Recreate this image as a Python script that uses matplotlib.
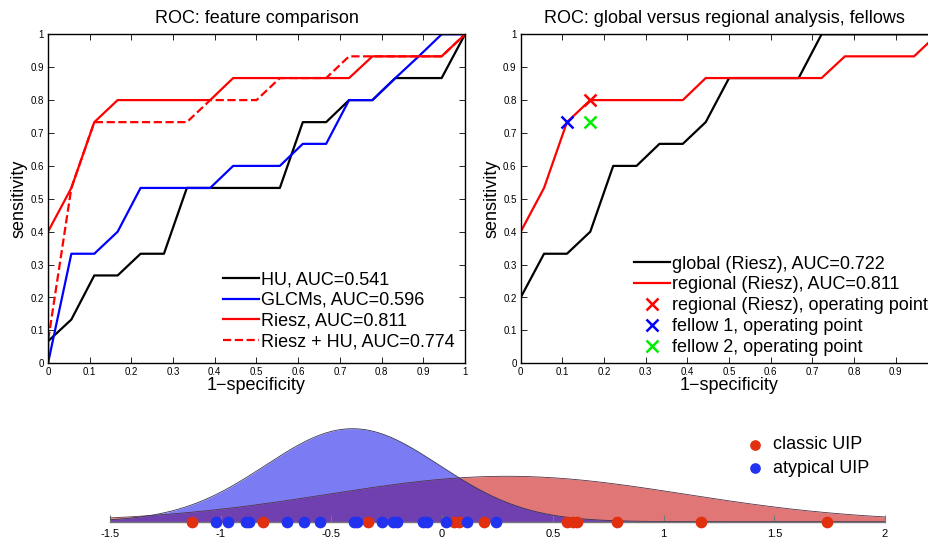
import numpy as np
import matplotlib
matplotlib.use('Agg')
import matplotlib.pyplot as plt

plt.rcParams['font.family'] = ['Liberation Sans', 'DejaVu Sans']

# ROC: feature comparison (x = 1-specificity, y = sensitivity)
hu_x = [0, 0, 0.056, 0.111, 0.167, 0.222, 0.278, 0.333, 0.556, 0.611, 0.667, 0.722, 0.778, 0.833, 0.944, 1]
hu_y = [0, 0.067, 0.133, 0.267, 0.267, 0.333, 0.333, 0.533, 0.533, 0.733, 0.733, 0.8, 0.8, 0.867, 0.867, 1]
glcm_x = [0, 0.056, 0.111, 0.167, 0.222, 0.389, 0.444, 0.556, 0.611, 0.667, 0.722, 0.778, 0.833, 0.889, 0.944, 1]
glcm_y = [0, 0.333, 0.333, 0.4, 0.533, 0.533, 0.6, 0.6, 0.667, 0.667, 0.8, 0.8, 0.867, 0.933, 1, 1]
riesz_x = [0, 0, 0.056, 0.111, 0.167, 0.389, 0.444, 0.722, 0.778, 0.944, 1]
riesz_y = [0, 0.4, 0.533, 0.733, 0.8, 0.8, 0.867, 0.867, 0.933, 0.933, 1]
rhu_x = [0, 0, 0.056, 0.111, 0.333, 0.389, 0.5, 0.556, 0.667, 0.722, 0.944, 1]
rhu_y = [0, 0.067, 0.533, 0.733, 0.733, 0.8, 0.8, 0.867, 0.867, 0.933, 0.933, 1]
labels_left = ['HU, AUC=0.541', 'GLCMs, AUC=0.596', 'Riesz, AUC=0.811', 'Riesz + HU, AUC=0.774']

# ROC: global versus regional
glob_x = [0, 0, 0.056, 0.111, 0.167, 0.222, 0.278, 0.333, 0.389, 0.444, 0.5, 0.667, 0.722, 1]
glob_y = [0, 0.2, 0.333, 0.333, 0.4, 0.6, 0.6, 0.667, 0.667, 0.733, 0.867, 0.867, 1, 1]
reg_x = [0, 0, 0.056, 0.111, 0.167, 0.389, 0.444, 0.722, 0.778, 0.944, 1]
reg_y = [0, 0.4, 0.533, 0.733, 0.8, 0.8, 0.867, 0.867, 0.933, 0.933, 1]
op_reg = (0.167, 0.8)
op_f1 = (0.111, 0.733)
op_f2 = (0.167, 0.733)
labels_right = ['global (Riesz), AUC=0.722', 'regional (Riesz), AUC=0.811',
                'regional (Riesz), operating point', 'fellow 1, operating point',
                'fellow 2, operating point']

# bottom: sample positions of the two groups
classic = [-1.13, -0.81, -0.333, 0.054, 0.074, 0.191, 0.566, 0.59, 0.608, 0.789, 1.168, 1.737]
atypical = [-1.02, -0.965, -0.885, -0.87, -0.70, -0.626, -0.55, -0.40, -0.385, -0.272,
            -0.223, -0.205, -0.087, -0.069, 0.018, 0.111, 0.244]
xticks_bot = [-1.5, -1, -0.5, 0, 0.5, 1, 1.5, 2]

W, H = 929, 538
fig = plt.figure(figsize=(W / 100, H / 100), dpi=100)


def px_axes(x0, y0, x1, y1):
    # axes from pixel box (top-left origin)
    return fig.add_axes([x0 / W, 1 - y1 / H, (x1 - x0) / W, (y1 - y0) / H])


def roc_style(ax):
    ax.set_xlim(0, 1)
    ax.set_ylim(0, 1)
    ax.set_xticks(np.arange(0, 1.01, 0.1))
    ax.set_yticks(np.arange(0, 1.01, 0.1))
    ax.set_xticklabels(['0'] + ['%.1f' % v for v in np.arange(0.1, 0.95, 0.1)] + ['1'])
    ax.set_yticklabels(['0'] + ['%.1f' % v for v in np.arange(0.1, 0.95, 0.1)] + ['1'])
    ax.tick_params(direction='in', top=True, right=True, labelsize=7, length=4, width=0.6, pad=3)
    for s in ax.spines.values():
        s.set_linewidth(1.0)
    ax.set_xlabel('1\u2212specificity', fontsize=13, labelpad=0)
    ax.set_ylabel('sensitivity', fontsize=13, labelpad=2)


ax1 = px_axes(48, 34.3, 465, 363.3)
ax1.plot(hu_x, hu_y, '-', color='black', lw=1.6)
ax1.plot(glcm_x, glcm_y, '-', color='blue', lw=1.6)
ax1.plot(riesz_x, riesz_y, '-', color='red', lw=1.6)
ax1.plot(rhu_x, rhu_y, '--', color='red', lw=1.6)
roc_style(ax1)
ax1.set_title('ROC: feature comparison', fontsize=13, pad=8)
ax1.legend(labels_left, loc='lower right', bbox_to_anchor=(1.0, 0.007), frameon=False, fontsize=13,
           handlelength=2.0, handletextpad=0.1, labelspacing=0.2, borderaxespad=0.2)

ax2 = px_axes(520.7, 34.3, 937.4, 363.3)
ax2.plot(glob_x, glob_y, '-', color='black', lw=1.6, label=labels_right[0])
ax2.plot(reg_x, reg_y, '-', color='red', lw=1.6, label=labels_right[1])
ax2.plot(*op_reg, 'x', color='red', ms=9, mew=1.8, label=labels_right[2])
ax2.plot(*op_f1, 'x', color='blue', ms=9, mew=1.8, label=labels_right[3])
ax2.plot(*op_f2, 'x', color='#00ee00', ms=9, mew=1.8, label=labels_right[4])
roc_style(ax2)
ax2.set_xticklabels(['0'] + ['%.1f' % v for v in np.arange(0.1, 0.95, 0.1)] + [''])
ax2.set_title('ROC: global versus regional analysis, fellows', fontsize=13, pad=8, x=0.49)
ax2.legend(loc='lower left', bbox_to_anchor=(0.245, -0.012), frameon=False, fontsize=13,
           handlelength=2.0, handletextpad=0.1, labelspacing=0.22, borderaxespad=0.2)

# bottom panel: gaussian fits of the two groups
ax3 = px_axes(110, 421, 885, 521.7)
xs = np.linspace(-1.5, 2, 600)


def gauss(v):
    m, s = np.mean(v), np.std(v, ddof=1)
    return np.exp(-(xs - m) ** 2 / (2 * s ** 2)) / (s * np.sqrt(2 * np.pi))


red_d = gauss(classic)
blue_d = gauss(atypical)
ax3.fill_between(xs, 0, red_d, color='#e07676', lw=0)
ax3.fill_between(xs, 0, blue_d, color='#7b7bf4', lw=0)
ax3.fill_between(xs, 0, np.minimum(red_d, blue_d), color='#7040b0', lw=0)
ax3.plot(xs, red_d, color='#553344', lw=0.6)
ax3.plot(xs, blue_d, color='#333355', lw=0.6)
ax3.set_xlim(-1.5, 2)
ax3.set_ylim(0, 1.1)
for k in ['top', 'right', 'left']:
    ax3.spines[k].set_visible(False)
ax3.spines['bottom'].set_color('#777777')
ax3.spines['bottom'].set_linewidth(1.0)
ax3.set_yticks([])
ax3.set_xticks(xticks_bot)
ax3.set_xticklabels(['%g' % v for v in xticks_bot])
ax3.tick_params(axis='x', direction='in', length=5, width=0.8, color='#777777', labelsize=8, pad=5)
ax3.scatter(classic, np.zeros(len(classic)), s=55, color='#e0300f', zorder=5, clip_on=False,
            label='classic UIP')
ax3.scatter(atypical, np.zeros(len(atypical)), s=55, color='#2233f0', zorder=5, clip_on=False,
            label='atypical UIP')
fig.legend(handles=ax3.collections[-2:], labels=['classic UIP', 'atypical UIP'],
           loc='upper left', bbox_to_anchor=(721 / W, 1 - 420 / H), frameon=False,
           fontsize=13, handletextpad=0.0, labelspacing=0.35, markerscale=0.9)

fig.savefig('out.png', dpi=100)
